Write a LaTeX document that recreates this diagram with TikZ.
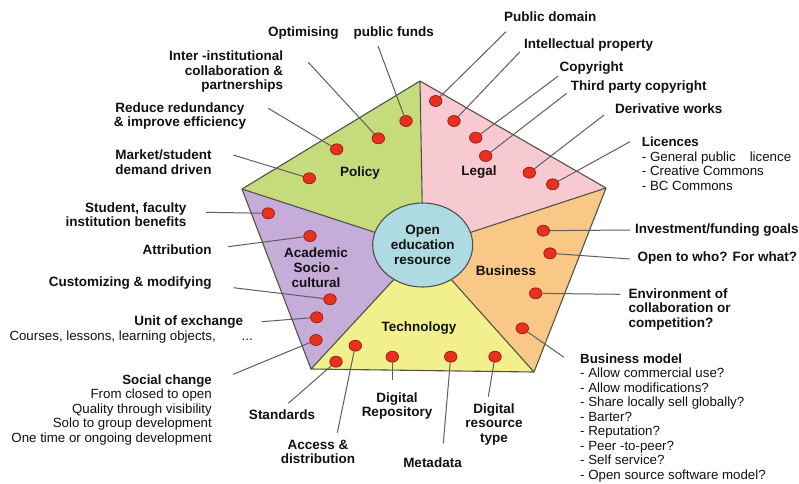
\documentclass[tikz,border=0pt]{standalone}
\usepackage{fontspec}
\setmainfont{Liberation Sans}
\usetikzlibrary{shapes.geometric}
\definecolor{cPolicy}{HTML}{C6DB7C}
\definecolor{cLegal}{HTML}{F7CAD2}
\definecolor{cBus}{HTML}{F9C886}
\definecolor{cTech}{HTML}{F2F08C}
\definecolor{cAcad}{HTML}{C6ACD9}
\definecolor{cCore}{HTML}{AEDAE2}
\definecolor{cEdge}{HTML}{505246}
\definecolor{cDot}{HTML}{E8301E}
\definecolor{cDotEdge}{HTML}{9A1A10}
\definecolor{cLine}{HTML}{5E5E5E}
\definecolor{cText}{HTML}{111111}
\begin{document}
\begin{tikzpicture}[x=1pt,y=-1pt,
  lab/.style={font=\bfseries\fontsize{13.5}{14.5}\selectfont, inner sep=0pt, text=cText},
  reg/.style={font=\fontsize{13.3}{14.5}\selectfont, inner sep=0pt, text=cText},
  dot/.style={ellipse, fill=cDot, draw=cDotEdge, line width=0.7pt, minimum width=12.5pt, minimum height=11pt, inner sep=0pt},
  conn/.style={draw=cLine, line width=1pt},
  divider/.style={draw=cEdge, line width=1.1pt},
  core/.style={ellipse, fill=cCore, draw=cEdge, line width=1.1pt, minimum width=100pt, minimum height=84pt, inner sep=0pt, align=center, font=\bfseries\fontsize{13.5}{15}\selectfont, text=cText}]
\useasboundingbox (0,0) rectangle (799,483);
\fill[white] (0,0) rectangle (799,483);
% pentagon
\coordinate (vT) at (420,81);
\coordinate (vR) at (606,188);
\coordinate (vBR) at (534,372);
\coordinate (vBL) at (311,369);
\coordinate (vL) at (242,189);
\coordinate (vC) at (423,248);
\fill[cPolicy] (vL) -- (vT) -- (vC) -- cycle;
\fill[cLegal] (vT) -- (vR) -- (vC) -- cycle;
\fill[cBus] (vR) -- (vBR) -- (vC) -- cycle;
\fill[cTech] (vBR) -- (vBL) -- (vC) -- cycle;
\fill[cAcad] (vBL) -- (vL) -- (vC) -- cycle;
\foreach \v in {vT,vR,vBR,vBL,vL} \draw[divider] (\v) -- (vC);
\draw[divider, line join=round] (vT) -- (vR) -- (vBR) -- (vBL) -- (vL) -- cycle;
\node[core] (core) at (422.7,245) {Open\\education\\resource};
% sector titles
\node[lab] (tPolicy) at (360,173) {Policy};
\node[lab] (tLegal) at (479,172) {Legal};
\node[lab] (tBus) at (506,271) {Business};
\node[lab] (tTech) at (419,328) {Technology};
\node[lab, align=center, font=\bfseries\fontsize{13.5}{15}\selectfont] (tAcad) at (316,268) {Academic\\Socio -\\cultural};
% free ends of connectors
\coordinate (eOpt) at (378,46);
\coordinate (eInter) at (308.3,62.3);
\coordinate (eRed) at (268.3,108.3);
\coordinate (eMkt) at (233.3,155);
\coordinate (eStu) at (206,212.3);
\coordinate (eAttr) at (228.3,246.7);
\coordinate (eCust) at (233.3,287.7);
\coordinate (eUnit) at (261.7,321.7);
\coordinate (eSoc) at (233.3,374.3);
\coordinate (eStd) at (288.3,403.3);
\coordinate (eAcc) at (337.3,432.7);
\coordinate (eRepo) at (392.3,380);
\coordinate (eMeta) at (443.3,443.3);
\coordinate (eRes) at (488.3,396.7);
\coordinate (eBM) at (564,357.3);
\coordinate (eEnv) at (620,294.3);
\coordinate (eOpen) at (630,259);
\coordinate (eInv) at (630,230);
\coordinate (eLic) at (630,141.7);
\coordinate (eDer) at (604,115);
\coordinate (eThird) at (566.7,93.3);
\coordinate (eCopy) at (558.3,76);
\coordinate (eIP) at (520,51.7);
\coordinate (ePD) at (506,31.7);
% dots
\node[dot] (dP1) at (406,121) {};
\node[dot] (dP2) at (378.3,138.3) {};
\node[dot] (dP3) at (336.7,149.3) {};
\node[dot] (dP4) at (309.3,178.3) {};
\node[dot] (dL1) at (435.7,101) {};
\node[dot] (dL2) at (454,121) {};
\node[dot] (dL3) at (475.7,137.7) {};
\node[dot] (dL4) at (485.7,156) {};
\node[dot] (dL5) at (529.3,172.7) {};
\node[dot] (dL6) at (552.7,184.3) {};
\node[dot] (dB1) at (543.3,230.7) {};
\node[dot] (dB2) at (550,253.3) {};
\node[dot] (dB3) at (535.7,293.3) {};
\node[dot] (dB4) at (522.3,328.3) {};
\node[dot] (dT1) at (336,361.7) {};
\node[dot] (dT2) at (355.3,345.7) {};
\node[dot] (dT3) at (392.3,356.7) {};
\node[dot] (dT4) at (450.7,356.7) {};
\node[dot] (dT5) at (495,356.7) {};
\node[dot] (dA1) at (268.3,213.3) {};
\node[dot] (dA2) at (310,236) {};
\node[dot] (dA3) at (330,299.3) {};
\node[dot] (dA4) at (316.7,317.3) {};
\node[dot] (dA5) at (316,340) {};
% connectors
\draw[conn] (eOpt) -- (dP1);
\draw[conn] (eInter) -- (dP2);
\draw[conn] (eRed) -- (dP3);
\draw[conn] (eMkt) -- (dP4);
\draw[conn] (eStu) -- (dA1);
\draw[conn] (eAttr) -- (dA2);
\draw[conn] (eCust) -- (dA3);
\draw[conn] (eUnit) -- (dA4);
\draw[conn] (eSoc) -- (dA5);
\draw[conn] (eStd) -- (dT1);
\draw[conn] (eAcc) -- (dT2);
\draw[conn] (eRepo) -- (dT3);
\draw[conn] (eMeta) -- (dT4);
\draw[conn] (eRes) -- (dT5);
\draw[conn] (eBM) -- (dB4);
\draw[conn] (eEnv) -- (dB3);
\draw[conn] (eOpen) -- (dB2);
\draw[conn] (eInv) -- (dB1);
\draw[conn] (eLic) -- (dL6);
\draw[conn] (eDer) -- (dL5);
\draw[conn] (eThird) -- (dL4);
\draw[conn] (eCopy) -- (dL3);
\draw[conn] (eIP) -- (dL2);
\draw[conn] (ePD) -- (dL1);
% labels
\node[lab] (nOpt) at (351,33.3) {Optimising\hspace{15pt}public funds};
\node[lab, align=right, anchor=east] (nInter) at (283.3,72) {Inter -institutional\\collaboration \&\\partnerships};
\node[lab, align=center] (nRed) at (180,116) {Reduce redundancy\\\& improve efficiency};
\node[lab, align=center] (nMkt) at (163.5,162) {Market/student\\demand driven};
\node[lab, align=right, anchor=east] (nStu) at (186.5,214.7) {Student, faculty\\institution benefits};
\node[lab] (nAttr) at (177,249.3) {Attribution};
\node[lab] (nCust) at (130.3,283.3) {Customizing \& modifying};
\node[lab, anchor=east] (nUnit) at (243.3,321.7) {Unit of exchange};
\node[reg, anchor=west] (nUnitSub) at (9.3,336.7) {Courses, lessons, learning objects,\hspace{26pt}...};
\node[reg, align=right, anchor=north east] (nSoc) at (212,374.5) {\textbf{Social change}\\From closed to open\\Quality through visibility\\Solo to group development\\One time or ongoing development};
\node[lab] (nStd) at (282,415) {Standards};
\node[lab, align=center] (nAcc) at (318,451.7) {Access \&\\distribution};
\node[lab, align=center] (nRepo) at (397,405.8) {Digital\\Repository};
\node[lab] (nMeta) at (432.5,462.7) {Metadata};
\node[lab, align=center] (nRes) at (494,424) {Digital\\resource\\type};
\node[reg, align=left, anchor=north west] (nBM) at (580,353.5) {\textbf{Business model}\\- Allow commercial use?\\- Allow modifications?\\- Share locally sell globally?\\- Barter?\\- Reputation?\\- Peer -to-peer?\\- Self service?\\- Open source software model?};
\node[lab, align=left, anchor=west] (nEnv) at (628.3,309.2) {Environment of\\collaboration or\\competition?};
\node[lab, anchor=west] (nOpen) at (637.3,258.3) {Open to who? For what?};
\node[lab, anchor=west] (nInv) at (635,230) {Investment/funding goals};
\node[reg, align=left, anchor=north west] (nLic) at (641.7,137) {\textbf{Licences}\\- General public\hspace{14pt}licence\\- Creative Commons\\- BC Commons};
\node[lab, anchor=west] (nDer) at (615,108.3) {Derivative works};
\node[lab, anchor=west] (nThird) at (570.7,86.7) {Third party copyright};
\node[lab, anchor=west] (nCopy) at (559.3,68.3) {Copyright};
\node[lab, anchor=west] (nIP) at (524,45) {Intellectual property};
\node[lab, anchor=west] (nPD) at (504,16.7) {Public domain};
\end{tikzpicture}
\end{document}
